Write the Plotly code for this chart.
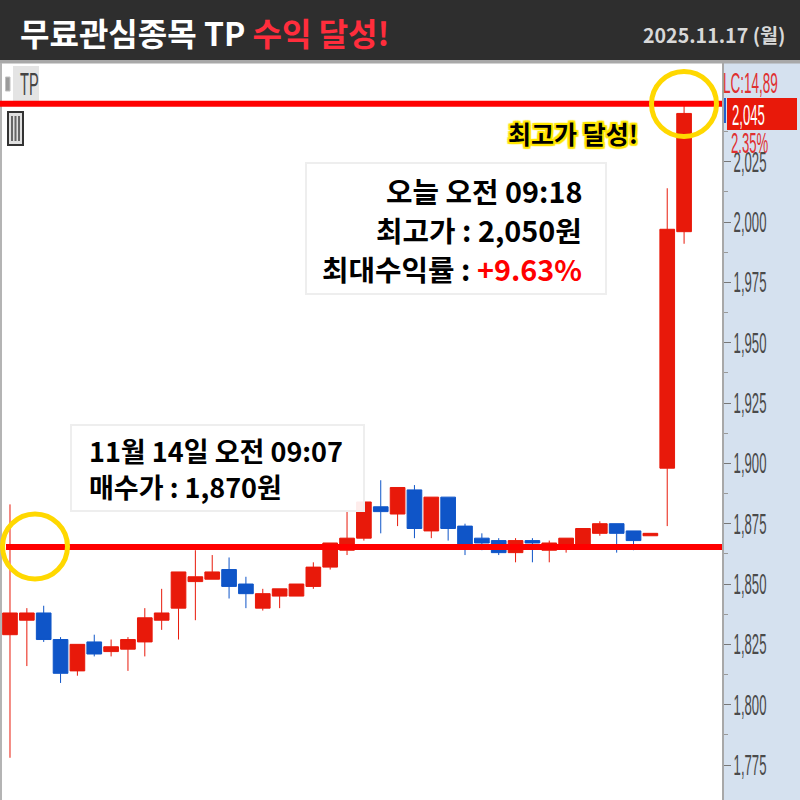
import plotly.graph_objects as go

idx = list(range(41))
opens = [1829,1835,1838,1827,1814,1826,1822,1823,1826,1835,1840,1851,1852,1856,1850,1840,1845,1845,1849,1857,1864,1869,1882,1879,1889,1872,1886,1874,1869,1868,1863,1868,1864,1865,1865,1871,1875,1872,1870,1898,1996]
highs = [1883,1840,1841,1828,1825,1829,1827,1828,1840,1848,1855,1864,1862,1861,1853,1848,1848,1850,1859,1867,1880,1885,1893,1890,1891,1886,1886,1875,1871,1869,1869,1869,1868,1869,1873,1876,1875,1872,1871,2014,2050]
lows = [1778,1816,1826,1809,1812,1820,1820,1814,1820,1831,1827,1835,1852,1844,1840,1839,1840,1845,1848,1856,1862,1868,1871,1874,1869,1869,1868,1862,1864,1862,1859,1859,1859,1863,1865,1870,1863,1864,1870,1874,1991]
closes = [1838,1838,1827,1813,1825,1821,1824,1827,1836,1838,1855,1853,1855,1849,1846,1846,1848,1850,1857,1867,1869,1884,1880,1890,1873,1886,1873,1865,1867,1863,1868,1867,1867,1869,1873,1875,1871,1868,1871,1997,2045]
tick_vals = [1775,1800,1825,1850,1875,1900,1925,1950,1975,2000,2025]
minor_vals = [1787.5,1812.5,1837.5,1862.5,1887.5,1912.5,1937.5,1962.5,1987.5,2012.5,2037.5]
buy_line = 1865.3
high_line = 2049

W, H = 800, 800
def px(x): return x / W
def py(y): return 1 - y / H

RED, BLUE = "#e8190a", "#0f55c8"
KR = "Noto Sans CJK KR"
NARROW = "Liberation Sans"

fig = go.Figure(go.Candlestick(
    x=idx, open=opens, high=highs, low=lows, close=closes,
    increasing=dict(line=dict(color=RED, width=1), fillcolor=RED),
    decreasing=dict(line=dict(color=BLUE, width=1), fillcolor=BLUE),
    whiskerwidth=0, showlegend=False, hoverinfo="skip",
))

def rect(x0, y0, x1, y1, fill=None, line=None, lw=0, layer="above"):
    return dict(type="rect", xref="paper", yref="paper", x0=px(x0), x1=px(x1), y0=py(y0), y1=py(y1),
                fillcolor=fill or "rgba(0,0,0,0)", line=dict(color=line or "rgba(0,0,0,0)", width=lw), layer=layer)

def seg(x0, y0, x1, y1, color, lw):
    return dict(type="line", xref="paper", yref="paper", x0=px(x0), x1=px(x1), y0=py(y0), y1=py(y1),
                line=dict(color=color, width=lw), layer="above")

def hline(val, x0, x1):
    return dict(type="line", xref="paper", yref="y", x0=px(x0), x1=px(x1), y0=val, y1=val,
                line=dict(color="#ff0000", width=6), layer="above")

def circle(cx, cy, r):
    return dict(type="circle", xref="paper", yref="paper", x0=px(cx-r), x1=px(cx+r), y0=py(cy-r), y1=py(cy+r),
                line=dict(color="#ffd800", width=5), fillcolor="rgba(0,0,0,0)", layer="above")

shapes = [
    rect(0, 0, 800, 60, fill="#2e2e2e"),
    rect(0, 60, 800, 63.5, fill="#a8a8a8"),
    rect(0, 63, 2, 800, fill="#b4b4b4"),
    rect(13, 66, 39, 101, fill="#e4e4e4"),
    rect(5.5, 77, 10, 91, fill="#9a9a9a", line="#c0c0c0", lw=1),
    rect(8, 112, 23, 145, fill="#e0e0e0", line="#333333", lw=2),
    seg(12, 116, 12, 141, "#666666", 2), seg(15.5, 116, 15.5, 141, "#666666", 2), seg(19, 116, 19, 141, "#666666", 2),
    seg(725, 98, 725, 123, "#2060d0", 2),
    rect(727, 98, 797, 130, fill=RED),
    rect(306, 163, 606, 294, fill="rgba(255,255,255,0.92)", line="#eeeeee", lw=2),
    rect(71, 425, 364, 511, fill="rgba(255,255,255,0.92)", line="#eeeeee", lw=2),
    hline(high_line, 0, 722),
    hline(buy_line, 6, 722),
    circle(684, 104, 32.5),
    circle(35, 546.5, 32.5),
]

def text(t, x, y, size, color="#000000", anchor="left", family=KR, **fontkw):
    return dict(text=t, xref="paper", yref="paper", x=px(x), y=py(y), xanchor=anchor, yanchor="middle",
                showarrow=False, font=dict(family=family, size=size, color=color, **fontkw))

outline = ",".join(f"{a}px {b}px 1px #ffe600" for a in (-2, 0, 2) for b in (-2, 0, 2))
annotations = [
    text('<b>무료관심종목 TP <span style="color:#ff2d3c">수익 달성!</span></b>', 18, 32, 32, "#ffffff"),
    text("<b>2025.11.17 (월)</b>", 788, 35, 19.6, "#d8d8d8", anchor="right"),
    text("TP", 18, 84, 20, "#444444", family=NARROW),
    text("LC:14,89", 721, 82, 18.5, "#e03030", family=NARROW),
    text("2,045", 730, 115, 18, "#ffffff", family=NARROW),
    text("2.35%", 729, 143, 18, "#e03030", family=NARROW),
    text("<b>최고가 달성!</b>", 640, 133, 25, "#000000", anchor="right", shadow=outline),
    text("<b>오늘 오전 09:18</b>", 584, 190, 28.8, anchor="right"),
    text("<b>최고가 : 2,050원</b>", 584, 229, 28.8, anchor="right"),
    text('<b>최대수익률 : <span style="color:#ff0000">+9.63%</span></b>', 584, 268, 28.8, anchor="right"),
    text("<b>11월 14일 오전 09:07</b>", 87, 450, 27),
    text("<b>매수가 : 1,870원</b>", 87, 486, 27),
]

fig.update_layout(
    width=W, height=H, autosize=False,
    margin=dict(l=0, r=0, t=0, b=0),
    paper_bgcolor="#d5e1ef", plot_bgcolor="#ffffff",
    boxgap=0.13, boxgroupgap=0,
    xaxis=dict(domain=[0, 722/800], range=[-0.593, 42.25], visible=False, rangeslider=dict(visible=False), fixedrange=True),
    yaxis=dict(domain=[0, 1-63/800], range=[1760.5, 2065.9], side="right", showgrid=False, zeroline=False,
               showline=True, linecolor="#a8a8a8", linewidth=2,
               tickmode="array", tickvals=tick_vals, tickformat=",", ticks="outside", ticklen=7, tickwidth=1,
               ticklabelstandoff=-1,
               tickcolor="#777777", tickfont=dict(family=NARROW, size=18, color="#4a4a4a"),
               minor=dict(tickmode="array", tickvals=minor_vals, ticks="outside", ticklen=4, tickcolor="#999999"),
               fixedrange=True),
    shapes=shapes, annotations=annotations,
)

# Page margin off; the terminal-style labels are tall and narrow, so stretch them about their left-centre.
post = """
document.body.style.margin = '0';
document.querySelectorAll('svg text').forEach(function (t) {
  var fam = t.style.fontFamily || '';
  if (fam.indexOf('Liberation Sans') < 0) return;
  var b = t.getBBox();
  var cy = b.y + b.height / 2;
  var base = t.getAttribute('transform') || '';
  t.setAttribute('transform', base + ' translate(' + b.x + ',' + cy + ') scale(0.73,1.6) translate(' + (-b.x) + ',' + (-cy) + ')');
});
"""
fig.write_html("out.html", post_script=post, config=dict(displayModeBar=False))
